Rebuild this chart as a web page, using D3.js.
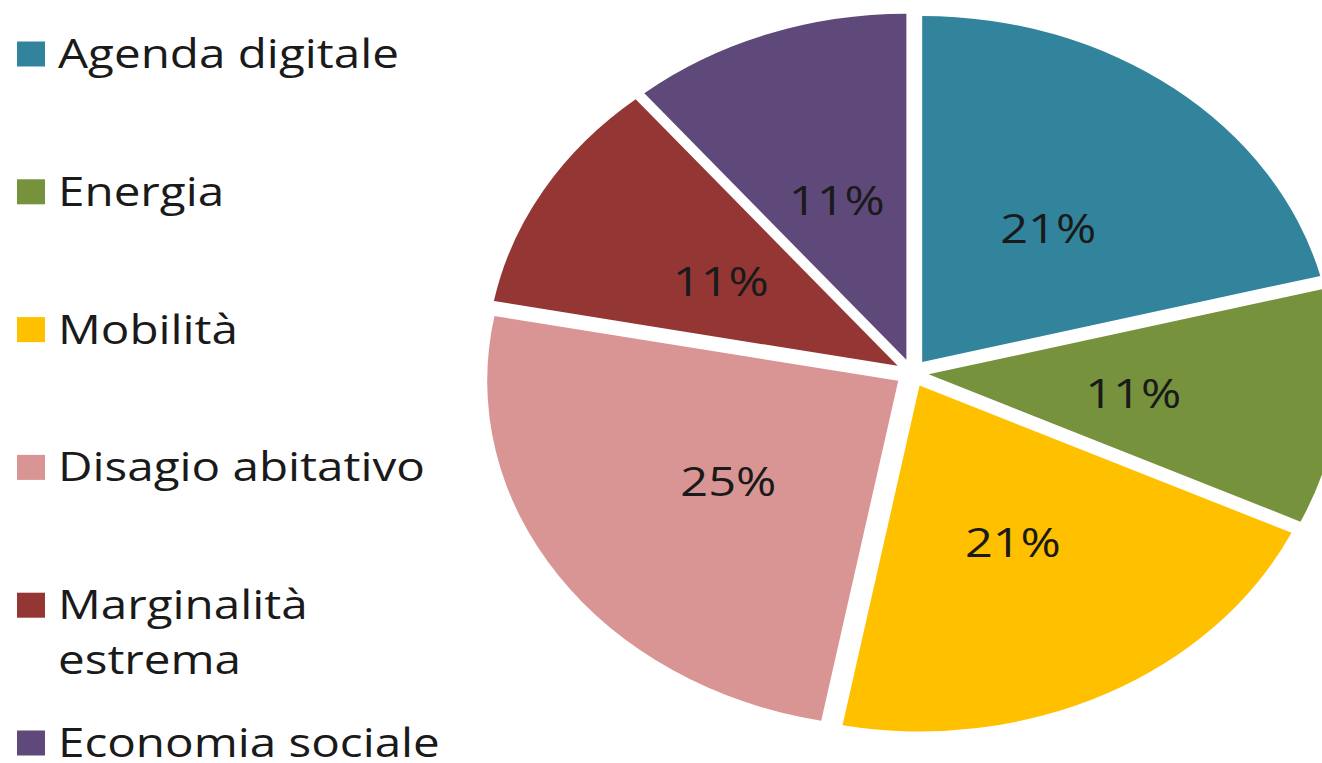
<!DOCTYPE html>
<html>
<head>
<meta charset="utf-8">
<script src="https://cdn.jsdelivr.net/npm/d3@7"></script>
<style>
  html, body { margin: 0; padding: 0; background: #fff; }
  svg { display: block; }
</style>
</head>
<body>
<svg id="chart" width="1322" height="763"></svg>
<script>
const categories = ["Agenda digitale", "Energia", "Mobilità", "Disagio abitativo", "Marginalità estrema", "Economia sociale"];
const legendLines = [["Agenda digitale"], ["Energia"], ["Mobilità"], ["Disagio abitativo"], ["Marginalità", "estrema"], ["Economia sociale"]];
const values = [21, 11, 21, 25, 11, 11];
const labels = ["21%", "11%", "21%", "25%", "11%", "11%"];
const colors = ["#31849B", "#76923C", "#FFC000", "#D99594", "#943634", "#5F497A"];

const svg = d3.select("#chart");

// pie geometry (picture is horizontally stretched)
const cx = 912, cy = 373, ry = 346, sx = 1.188, explode = 14;

const pie = d3.pie().sort(null).value(d => d)(values);
const arc = d3.arc().innerRadius(0).outerRadius(ry);

const g = svg.append("g");
pie.forEach((p, i) => {
  const mid = (p.startAngle + p.endAngle) / 2;
  const vx = cx + sx * explode * Math.sin(mid);
  const vy = cy - explode * Math.cos(mid);
  g.append("path")
    .attr("d", arc(p))
    .attr("fill", colors[i])
    .attr("transform", `translate(${vx},${vy}) scale(${sx},1)`);
  const lr = ry * 0.5;
  const lx = vx + sx * lr * Math.sin(mid);
  const ly = vy - lr * Math.cos(mid) + 3;
  g.append("text")
    .attr("transform", `translate(${lx},${ly}) scale(${sx},1)`)
    .attr("text-anchor", "middle")
    .attr("dy", "0.36em")
    .attr("font-family", "'Open Sans', sans-serif")
    .attr("font-size", 41)
    .attr("fill", "#1a1a1a")
    .text(labels[i]);
});

// legend
const legY = d3.scalePoint().domain(categories).range([54, 743]);
const leg = svg.append("g");
categories.forEach((c, i) => {
  const y = legY(c);
  leg.append("rect")
    .attr("x", 17).attr("y", y - 12.5)
    .attr("width", 28).attr("height", 25)
    .attr("fill", colors[i]);
  const t = leg.append("text")
    .attr("transform", `translate(58,${y + 14}) scale(1.19,1)`)
    .attr("font-family", "'Open Sans', sans-serif")
    .attr("font-size", 40)
    .attr("fill", "#1a1a1a");
  legendLines[i].forEach((ln, j) => {
    t.append("tspan").attr("x", 0).attr("y", j * 55).text(ln);
  });
});
</script>
</body>
</html>
